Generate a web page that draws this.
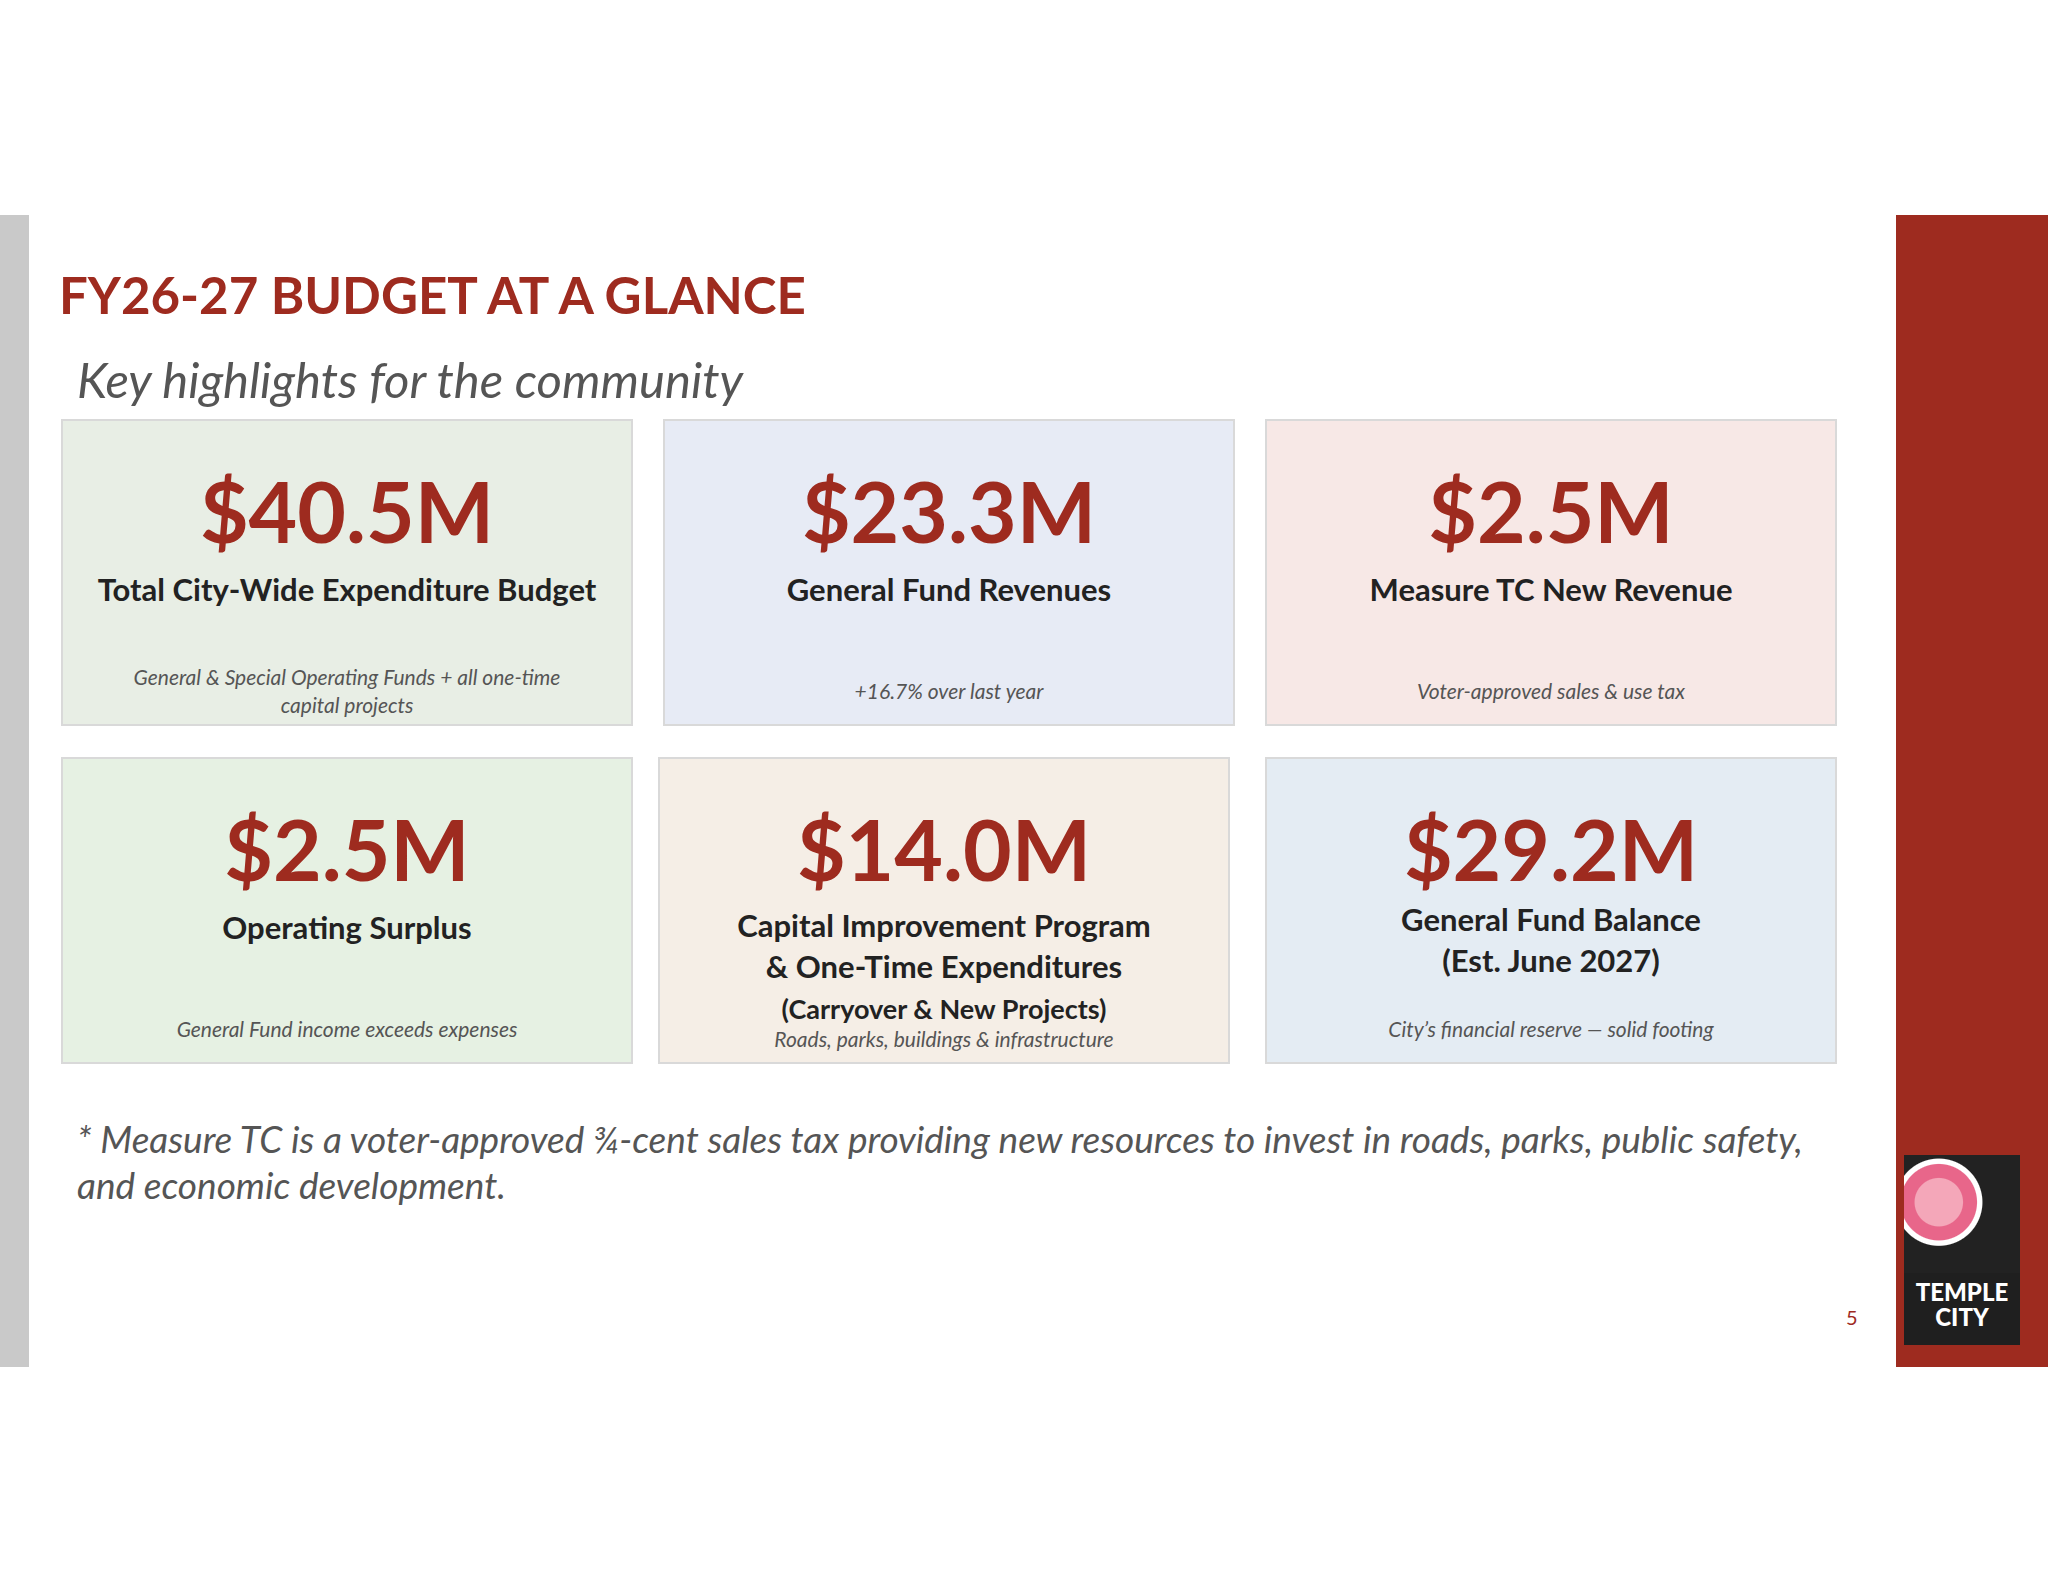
<!DOCTYPE html>
<html>
<head>
<meta charset="utf-8">
<script src="https://cdn.jsdelivr.net/npm/chart.js@4"></script>
<style>
  body { margin:0; width:2048px; height:1582px; background:#fff; font-family:Lato, "Open Sans", sans-serif; position:relative; overflow:hidden; }
  .gray { position:absolute; left:0; top:215px; width:29px; height:1152px; background:#c9c9c9; }
  .red { position:absolute; left:1896px; top:215px; width:152px; height:1152px; background:#9e2b1f; }
  .title { position:absolute; left:59px; top:264px; font-size:51px; font-weight:700; color:#9e2b1f; }
  .sub { position:absolute; left:77px; top:350px; font-size:49px; font-style:italic; color:#555; }
  .card { position:absolute; width:572px; height:307px; border:2px solid #d9d9d9; box-sizing:border-box; text-align:center; }
  .val { position:absolute; left:0; right:0; top:48px; font-size:84px; font-weight:700; color:#9e2b1f; line-height:1; }
  .lab { position:absolute; left:0; right:0; top:148px; font-size:31px; font-weight:700; color:#222; line-height:41px; }
  .lab small { font-size:27px; }
  .note { position:absolute; left:50px; right:50px; bottom:2px; height:62px; display:flex; align-items:center; justify-content:center; font-size:21px; font-style:italic; color:#555; line-height:28px; }
  .foot { position:absolute; left:77px; top:1116px; width:1760px; font-size:37px; font-style:italic; color:#555; line-height:46px; }
  .pg { position:absolute; left:1846px; top:1305px; font-size:20px; color:#9e2b1f; }
  .logo { position:absolute; left:1904px; top:1155px; width:116px; height:190px; background:#1f1f1f; }
  .logo .art { position:absolute; left:0; top:0; width:116px; height:118px; background:radial-gradient(circle at 30% 40%, #f4a7b9 0 22%, #e8668a 23% 35%, #fff 36% 40%, #222 41% 100%); }
  .logo .txt { position:absolute; left:0; right:0; top:124px; text-align:center; color:#fff; font-weight:900; font-size:24px; line-height:25px; }
</style>
</head>
<body>
<div class="gray"></div>
<div class="red"></div>
<div class="title">FY26-27 BUDGET AT A GLANCE</div>
<div class="sub">Key highlights for the community</div>
<div id="cards"></div>
<div class="foot">* Measure TC is a voter-approved ¾-cent sales tax providing new resources to invest in roads, parks, public safety, and economic development.</div>
<div class="pg">5</div>
<div class="logo"><div class="art"></div><div class="txt">TEMPLE<br>CITY</div></div>
<script>
const values = ['$40.5M', '$23.3M', '$2.5M', '$2.5M', '$14.0M', '$29.2M'];
const labels = [
  'Total City-Wide Expenditure Budget',
  'General Fund Revenues',
  'Measure TC New Revenue',
  'Operating Surplus',
  'Capital Improvement Program<br>& One-Time Expenditures<br><small>(Carryover & New Projects)</small>',
  'General Fund Balance<br>(Est. June 2027)'
];
const notes = [
  'General & Special Operating Funds + all one-time capital projects',
  '+16.7% over last year',
  'Voter-approved sales & use tax',
  'General Fund income exceeds expenses',
  'Roads, parks, buildings & infrastructure',
  'City\u2019s financial reserve \u2014 solid footing'
];
const fills = ['#e8eee5', '#e7ebf5', '#f7e8e6', '#e6f1e3', '#f5eee6', '#e4ecf3'];
const lefts = [61, 663, 1265, 61, 658, 1265];
const tops = [419, 419, 419, 757, 757, 757];

const wrap = document.getElementById('cards');
values.forEach((v, i) => {
  const c = document.createElement('div');
  c.className = 'card';
  c.style.left = lefts[i] + 'px';
  c.style.top = tops[i] + 'px';
  c.style.background = fills[i];
  const labTop = i === 4 ? 146 : (i === 5 ? 140 : 148);
  const noteStyle = i === 4 ? 'height:34px;bottom:6px' : '';
  c.innerHTML = '<div class="val">' + v + '</div>' +
    '<div class="lab" style="top:' + labTop + 'px">' + labels[i] + '</div>' +
    '<div class="note" style="' + noteStyle + '">' + notes[i] + '</div>';
  wrap.appendChild(c);
});
</script>
</body>
</html>
